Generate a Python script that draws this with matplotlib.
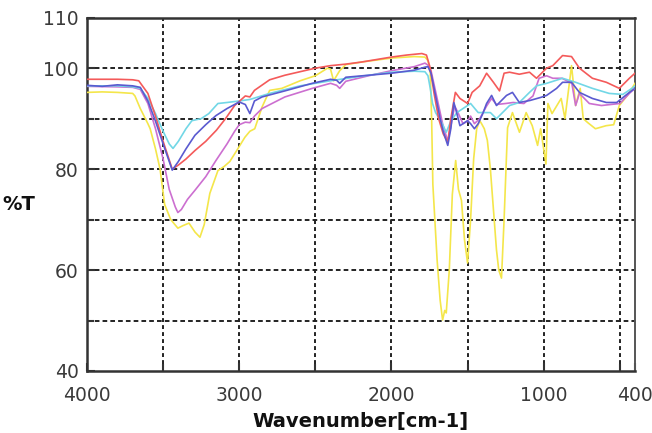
import matplotlib
matplotlib.use("Agg")
import matplotlib.pyplot as plt
from matplotlib.ticker import FixedLocator

# ---------------- data ----------------
red_wn = [4000, 3900, 3800, 3700, 3660, 3600, 3550, 3500, 3440, 3400, 3350, 3290, 3220, 3150, 3090, 3030,
          2960, 2930, 2900, 2800, 2700, 2600, 2500, 2400, 2300, 2200, 2100, 2000, 1900, 1800, 1770, 1745,
          1720, 1690, 1660, 1630, 1610, 1580, 1550, 1500, 1470, 1420, 1375, 1330, 1290, 1260, 1224, 1160,
          1093, 1047, 981, 940, 876, 817, 765, 680, 588, 503, 437, 400]
red_t = [97.8, 97.8, 97.8, 97.7, 97.5, 95, 90.5, 85.5, 80, 80.8, 82, 83.7, 85.5, 87.7, 90, 92.6,
         94.5, 94.3, 95.6, 97.7, 98.6, 99.3, 100, 100.5, 100.8, 101.2, 101.7, 102.2, 102.6, 102.9, 102.6, 100,
         95, 90, 87, 85.3, 90, 95.2, 94, 93, 95.2, 96.5, 99, 97.2, 95.5, 99, 99.2, 98.8,
         99.2, 98, 100, 100.5, 102.5, 102.3, 100, 98, 97.2, 96, 98, 99]

cyan_wn = [4000, 3800, 3700, 3650, 3600, 3550, 3500, 3460, 3435, 3400, 3350, 3311, 3250, 3200, 3140, 3080,
           3000, 2930, 2800, 2600, 2400, 2200, 2000, 1850, 1780, 1760, 1745, 1730, 1710, 1670, 1640, 1610,
           1570, 1480, 1430, 1350, 1310, 1290, 1224, 1160, 1093, 1047, 980, 876, 790, 680, 570, 480, 420, 400]
cyan_t = [96.5, 96.5, 96.3, 96, 94, 91, 87.5, 85, 84.1, 85.5, 88, 89.6, 90, 91, 93, 93.2,
          93.5, 93.8, 95, 96.5, 97.5, 98.4, 99.2, 99.4, 99.3, 98.5, 96, 93, 91.2, 89.2, 87.3, 89.5,
          91.2, 93, 91.2, 91.2, 90, 90.6, 92.6, 93.2, 95.2, 96.5, 97, 98, 97.2, 96, 95, 94.8, 96, 96.5]

blue_wn = [4000, 3900, 3800, 3700, 3650, 3600, 3550, 3500, 3440, 3400, 3350, 3291, 3220, 3153, 3080, 3000,
           2960, 2930, 2900, 2850, 2700, 2520, 2400, 2360, 2340, 2300, 2150, 2000, 1850, 1780, 1760, 1740,
           1720, 1700, 1680, 1660, 1630, 1610, 1590, 1570, 1550, 1530, 1500, 1480, 1455, 1430, 1400, 1375,
           1342, 1310, 1244, 1205, 1160, 1090, 1020, 981, 915, 876, 817, 765, 680, 588, 520, 437, 400]
blue_t = [96.6, 96.4, 96.7, 96.5, 96.2, 93.5, 89.5, 85, 79.8, 81.5, 84, 86.7, 88.8, 90.6, 92, 93.3,
          92.8, 91, 93.5, 94.3, 95.5, 97, 97.8, 97.6, 97.0, 98.2, 98.6, 99, 99.6, 100.2, 100.3, 99,
          96, 93, 90, 87.5, 84.7, 88, 93.2, 91, 88.6, 89, 89.6, 89, 88, 89, 91, 93,
          94.6, 92.6, 94.6, 95.2, 93.2, 93.6, 94.2, 94.6, 96, 97.2, 97.2, 95.2, 94, 93.2, 93.2, 95.2, 96]

magenta_wn = [4000, 3800, 3700, 3650, 3600, 3550, 3500, 3460, 3420, 3403, 3380, 3340, 3291, 3220, 3153, 3080,
              3030, 3000, 2960, 2930, 2900, 2850, 2700, 2520, 2400, 2360, 2340, 2300, 2150, 2000, 1850, 1780,
              1760, 1740, 1700, 1664, 1630, 1610, 1585, 1560, 1530, 1500, 1480, 1455, 1420, 1375, 1342, 1310,
              1250, 1200, 1130, 1070, 1030, 981, 940, 880, 815, 790, 765, 700, 620, 500, 437, 400]
magenta_t = [96.4, 96.3, 96.2, 95.8, 93, 88, 82, 76, 72.5, 71.4, 72, 74, 75.8, 78.5, 81.7, 85,
             87.5, 88.8, 89.3, 89.2, 90.5, 92, 94.3, 96, 97, 96.6, 96.0, 97.4, 98.5, 99.5, 100.3, 101,
             100.6, 99.5, 94, 89, 85.5, 88.5, 92.5, 91, 89, 89.5, 90.5, 89, 90, 92.5, 94, 92.8,
             93, 93.2, 93, 94.5, 98, 98.5, 98, 98, 97, 92.6, 95, 93, 92.6, 93, 95, 96]

yellow_wn = [4000, 3900, 3800, 3700, 3685, 3650, 3600, 3585, 3550, 3520, 3490, 3450, 3403, 3370, 3330, 3290,
             3258, 3230, 3193, 3140, 3100, 3062, 3020, 2963, 2930, 2898, 2850, 2800, 2720, 2600, 2500, 2420,
             2400, 2380, 2340, 2300, 2200, 2000, 1850, 1780, 1760, 1745, 1736, 1728, 1700, 1680, 1664, 1650,
             1640, 1620, 1600, 1578, 1560, 1540, 1520, 1500, 1480, 1460, 1440, 1420, 1408, 1390, 1370, 1350,
             1330, 1310, 1295, 1277, 1260, 1245, 1237, 1205, 1159, 1115, 1075, 1040, 1020, 985, 972, 945,
             885, 860, 817, 790, 760, 740, 710, 660, 590, 540, 503, 450, 420, 400]
yellow_t = [95.2, 95.3, 95.2, 95, 94.5, 92, 89, 88, 84, 80, 73, 70, 68.3, 68.8, 69.3, 67.5,
            66.5, 69, 75.2, 79.7, 80.5, 81.5, 83.5, 86.3, 87.5, 88, 92.3, 95.6, 96, 97.5, 98.5, 100,
            99.8, 97.5, 99.5, 100.7, 101.2, 102, 102.3, 102.2, 101.5, 99, 90, 77, 62, 54, 50.1, 52,
            51.5, 60, 75, 81.7, 76, 73.8, 66, 61.4, 70, 82, 88, 89.6, 89, 88, 85.7, 80,
            72, 64, 60, 58.4, 70, 82, 88.2, 91.2, 87.3, 91.2, 88.6, 84.7, 88, 81, 93, 91,
            94, 90, 100.5, 92.6, 96, 90, 89.2, 88, 88.6, 88.8, 92.6, 94.6, 96, 97]

x_ticks = [4000, 3000, 2000, 1000, 400]
x_tick_labels = ["4000", "3000", "2000", "1000", "400"]
x_grid = [3500, 3000, 2500, 2000, 1500, 1000, 500]
y_ticks = [40, 60, 80, 100, 110]
y_tick_labels = ["40", "60", "80", "100", "110"]
y_grid = [50, 60, 70, 80, 90, 100]

# ---------------- figure ----------------
fig = plt.figure(figsize=(6.52, 4.33), dpi=100)
ax = fig.add_axes([87 / 652, 1 - 371 / 433, (635 - 87) / 652, (371 - 17.7) / 433])

series = [
    (yellow_wn, yellow_t, "#f4e64a"),
    (magenta_wn, magenta_t, "#cc6fd0"),
    (cyan_wn, cyan_t, "#72d7e6"),
    (red_wn, red_t, "#f45a5a"),
    (blue_wn, blue_t, "#5a5ad0"),
]
for wn, t, c in series:
    ax.plot(wn, t, color=c, lw=1.2, zorder=3)

ax.set_xlim(4000, 400)
ax.set_ylim(40, 110)

for gx in x_grid:
    ax.axvline(gx, color="#222222", lw=1.4, dashes=(2.0, 1.6), zorder=1)
for gy in y_grid:
    ax.axhline(gy, color="#222222", lw=1.4, dashes=(2.4, 1.6), zorder=1)

ax.xaxis.set_major_locator(FixedLocator(x_ticks))
ax.set_xticklabels(x_tick_labels)
ax.xaxis.set_minor_locator(FixedLocator(x_grid))
ax.yaxis.set_major_locator(FixedLocator(y_ticks))
ax.set_yticklabels(y_tick_labels)
ax.yaxis.set_minor_locator(FixedLocator(y_grid))

ax.tick_params(axis="both", which="both", direction="in", color="#333333", width=1.5,
               labelsize=13.5, labelcolor="#3a3a3a", top=False, right=False)
ax.tick_params(axis="both", which="major", length=6)
ax.tick_params(axis="both", which="minor", length=5)
ax.tick_params(axis="x", which="major", pad=11)
ax.tick_params(axis="y", which="major", pad=6)

for side in ["left", "bottom", "top"]:
    ax.spines[side].set_color("#333333")
    ax.spines[side].set_linewidth(1.8)
ax.spines["right"].set_color("#555555")
ax.spines["right"].set_linewidth(1.4)

fig.text(360 / 652, 1 - 422 / 433, "Wavenumber[cm-1]", ha="center", va="center",
         fontsize=14, fontweight="bold", color="#111111")
fig.text(35 / 652, 1 - 205 / 433, "%T", ha="right", va="center",
         fontsize=14, fontweight="bold", color="#111111")

fig.savefig("out.png", dpi=100)
